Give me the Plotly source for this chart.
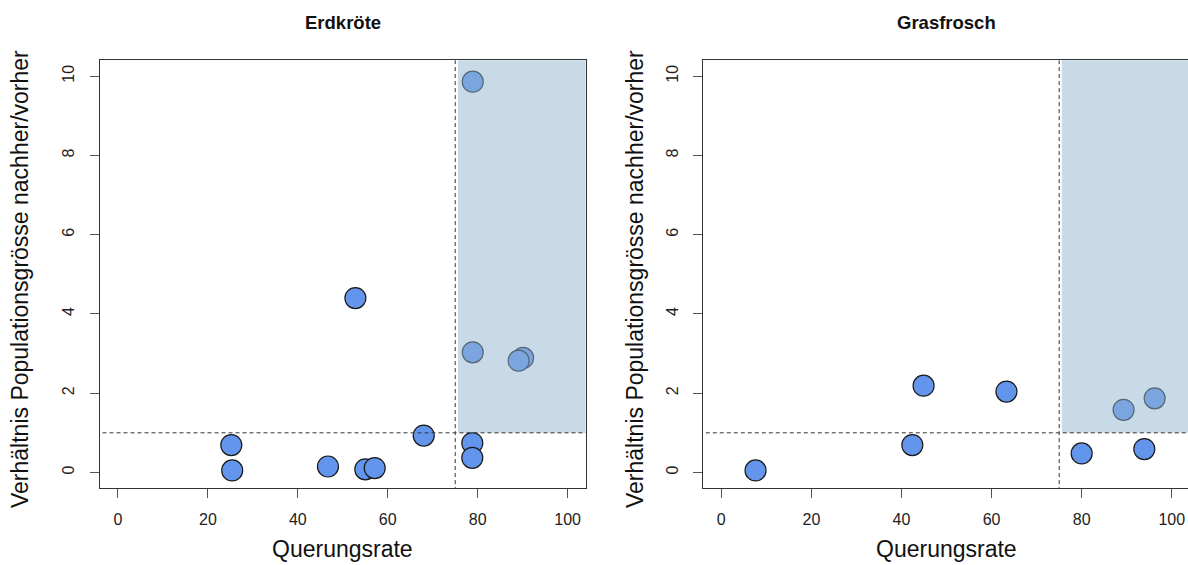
import plotly.graph_objects as go

# ---- data ----
erd_x = [25.2, 25.4, 46.7, 52.8, 55.0, 57.1, 68.0, 78.9, 78.9, 90.1, 89.1, 78.8, 78.8]
erd_y = [0.69, 0.05, 0.15, 4.40, 0.08, 0.11, 0.93, 9.86, 3.03, 2.89, 2.82, 0.74, 0.37]

gras_x = [7.6, 42.4, 44.9, 63.3, 80.0, 93.9, 89.3, 96.2]
gras_y = [0.05, 0.69, 2.19, 2.04, 0.48, 0.59, 1.58, 1.87]

titles = ["Erdkröte", "Grasfrosch"]
x_title = "Querungsrate"
y_title = "Verhältnis Populationsgrösse nachher/vorher"
x_ticks = [0, 20, 40, 60, 80, 100]
y_ticks = [0, 2, 4, 6, 8, 10]
thresh_x = 75
thresh_y = 1

W, H = 1188, 565
FONT = "Liberation Sans, Arial, sans-serif"

fig = go.Figure()

marker = dict(size=21, color="#6495ED", line=dict(color="#1a1a1a", width=1.2))
fig.add_trace(go.Scatter(x=erd_x, y=erd_y, mode="markers", marker=marker,
                         xaxis="x", yaxis="y", showlegend=False, cliponaxis=True))
fig.add_trace(go.Scatter(x=gras_x, y=gras_y, mode="markers", marker=marker,
                         xaxis="x2", yaxis="y2", showlegend=False, cliponaxis=True))

ydom = [1 - 488.3 / H, 1 - 60.3 / H]
x1dom = [100 / W, 585.6 / W]
x2dom = [703.3 / W, 1.0]

common_x = dict(tickvals=x_ticks, ticks="outside", ticklen=9, tickwidth=1.2,
                tickcolor="#555", showline=True, mirror=True, linecolor="#333",
                linewidth=1.3, showgrid=False, zeroline=False,
                tickfont=dict(family=FONT, size=16, color="#222"),
                ticklabelstandoff=7)
common_y = dict(tickvals=y_ticks, ticks="outside", ticklen=9, tickwidth=1.2,
                tickcolor="#555", showline=True, mirror=True, linecolor="#333",
                linewidth=1.3, showgrid=False, zeroline=False, tickangle=-90,
                tickfont=dict(family=FONT, size=16, color="#222"),
                range=[-0.4, 10.4], domain=ydom, ticklabelstandoff=9)

fig.update_layout(
    width=W, height=H, margin=dict(l=0, r=0, t=0, b=0),
    paper_bgcolor="white", plot_bgcolor="white",
    xaxis=dict(domain=x1dom, range=[-4, 104], anchor="y", **common_x),
    yaxis=dict(anchor="x", **common_y),
    xaxis2=dict(domain=x2dom, range=[-4, 103.6], anchor="y2", **common_x),
    yaxis2=dict(anchor="x2", **common_y),
    font=dict(family=FONT),
)

shade = "rgba(145,181,209,0.5)"
dash = dict(color="#333", width=1, dash="4px,3px")
for xr, yr, xmax in [("x", "y", 104), ("x2", "y2", 103.6)]:
    fig.add_shape(type="rect", xref=xr, yref=yr, x0=75.6, x1=xmax + 1, y0=thresh_y, y1=11,
                  fillcolor=shade, line=dict(width=0), layer="above")
    fig.add_shape(type="line", xref=xr, yref=yr, x0=-5, x1=xmax + 1, y0=thresh_y, y1=thresh_y,
                  line=dash, layer="above")
    fig.add_shape(type="line", xref=xr, yref=yr, x0=thresh_x, x1=thresh_x, y0=-1, y1=11,
                  line=dash, layer="above")

centers = [(100 + 585.6) / 2, (703.3 + 1189.7) / 2]
ycenter = 1 - 279 / H
ytitle_x = [20, 635]
for i, cx in enumerate(centers):
    fig.add_annotation(text="<b>%s</b>" % titles[i], x=cx / W, y=1 - 22.7 / H,
                       xref="paper", yref="paper", showarrow=False,
                       font=dict(family=FONT, size=18.5, color="#111"),
                       xanchor="center", yanchor="middle")
    fig.add_annotation(text=x_title, x=cx / W, y=1 - 549 / H,
                       xref="paper", yref="paper", showarrow=False,
                       font=dict(family=FONT, size=23, color="#111"),
                       xanchor="center", yanchor="middle")
    fig.add_annotation(text=y_title, x=ytitle_x[i] / W, y=ycenter, textangle=-90,
                       xref="paper", yref="paper", showarrow=False,
                       font=dict(family=FONT, size=23, color="#111"),
                       xanchor="center", yanchor="middle")

fig.write_html("out.html")
